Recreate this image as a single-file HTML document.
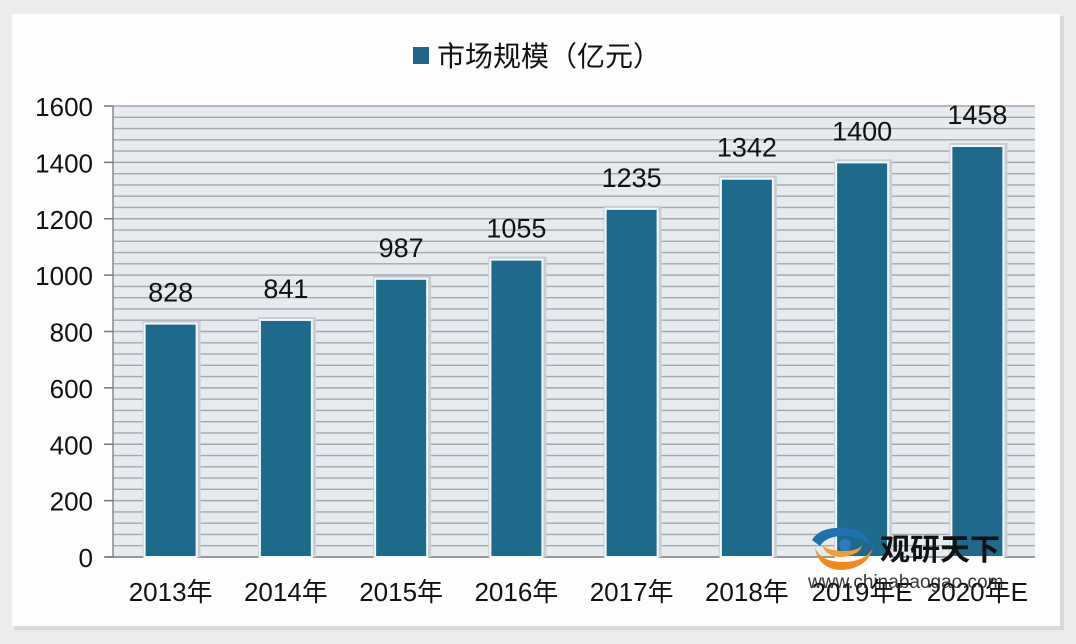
<!DOCTYPE html>
<html><head><meta charset="utf-8"><style>
html,body{margin:0;padding:0;background:#e9e9e9;}
svg{display:block;font-family:"Liberation Sans","Noto Sans CJK SC",sans-serif;}
</style></head><body>
<svg width="1076" height="644" viewBox="0 0 1076 644" xmlns="http://www.w3.org/2000/svg">
<rect x="0" y="0" width="1076" height="644" fill="#ececec"/>
<rect x="14" y="16" width="1050" height="614" fill="#d9d9d9"/>
<rect x="12" y="14" width="1048" height="612" fill="#fdfdfd"/>
<rect x="413" y="47" width="16" height="17" fill="#1f6688"/>
<text x="437" y="66" font-size="28" fill="#111">市场规模（亿元）</text>
<rect x="113" y="106" width="922" height="451" fill="#e6ebf0"/>
<g id="grid" stroke="#a4a8ad" stroke-width="1.4"></g>
<line x1="113" y1="106" x2="113" y2="557" stroke="#8a8a8a" stroke-width="1.5"/>
<line x1="106" y1="557" x2="1035" y2="557" stroke="#7a7a7a" stroke-width="1.5"/>
<g font-size="26" fill="#111" text-anchor="end" id="yl"></g>
<g id="bars"></g>
<g>
<path d="M812 540 q8 -14 35 -12 q20 2 22 16 q-10 -8 -25 -8 q-18 0 -24 10z" fill="#1f72b0"/>
<path d="M815 548 q6 14 28 14 q22 0 30 -14 q-6 20 -30 22 q-24 0 -28 -22z" fill="#f08a1e"/>
<path d="M822 545 q6 6 22 6 q14 0 18 -6 q-2 10 -20 12 q-16 0 -20 -12z" fill="#f0a030"/>
<circle cx="845" cy="545" r="6" fill="#2a7cc0"/>
<text x="880" y="560" font-size="30" font-weight="bold" fill="#111">观研天下</text>
<text x="808" y="588" font-size="19" fill="#222" opacity="0.9">www.chinabaogao.com</text>
</g>
</svg>
<script>
const NS="http://www.w3.org/2000/svg";
const g=document.getElementById('grid');
for(let v=40;v<=1600;v+=40){const y=557-v*451/1600;const l=document.createElementNS(NS,'line');l.setAttribute('x1',113);l.setAttribute('x2',1035);l.setAttribute('y1',y);l.setAttribute('y2',y);g.appendChild(l);}
const yl=document.getElementById('yl');
for(let v=0;v<=1600;v+=200){const y=557-v*451/1600;const t=document.createElementNS(NS,'text');t.setAttribute('x',93);t.setAttribute('y',y+10);t.textContent=v;yl.appendChild(t);
const k=document.createElementNS(NS,'line');k.setAttribute('x1',104);k.setAttribute('x2',113);k.setAttribute('y1',y);k.setAttribute('y2',y);k.setAttribute('stroke','#777');k.setAttribute('stroke-width','1.5');yl.appendChild(k);}
const vals=[828,841,987,1055,1235,1342,1400,1458];
const labs=["2013年","2014年","2015年","2016年","2017年","2018年","2019年E","2020年E"];
const b=document.getElementById('bars');
vals.forEach((v,i)=>{const cx=113+115.25*(i+0.5);const y=557-v*451/1600;
const s=document.createElementNS(NS,'rect');s.setAttribute('x',cx-28);s.setAttribute('y',y-3);s.setAttribute('width',58);s.setAttribute('height',557-y+3);s.setAttribute('fill','#c9ced3');b.appendChild(s);
const r=document.createElementNS(NS,'rect');r.setAttribute('x',cx-26);r.setAttribute('y',y);r.setAttribute('width',52);r.setAttribute('height',557-y);r.setAttribute('fill','#1d6a8d');r.setAttribute('stroke','#f4f8fa');r.setAttribute('stroke-width','2');b.appendChild(r);
const t=document.createElementNS(NS,'text');t.setAttribute('x',cx);t.setAttribute('y',y-22);t.setAttribute('font-size','27');t.setAttribute('text-anchor','middle');t.setAttribute('fill','#111');t.textContent=v;b.appendChild(t);
const x=document.createElementNS(NS,'text');x.setAttribute('x',cx);x.setAttribute('y',601);x.setAttribute('font-size','26');x.setAttribute('text-anchor','middle');x.setAttribute('fill','#111');x.textContent=labs[i];b.appendChild(x);});
</script>
</body></html>
